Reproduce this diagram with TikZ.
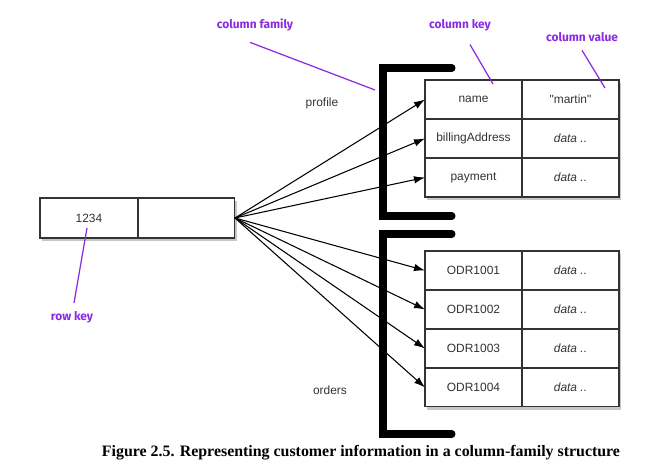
\documentclass[tikz,border=0pt]{standalone}
\usepackage{fontspec}
\setmainfont{Liberation Serif}
\setsansfont{Liberation Sans}
\newfontfamily\notefont{Fira Sans}
\newfontfamily\plainsans{Liberation Sans}
\usetikzlibrary{arrows.meta, positioning, shadows, backgrounds}
\definecolor{inkbox}{HTML}{333333}
\definecolor{notepurple}{HTML}{8A2BE2}

\begin{document}
\begin{tikzpicture}[
  x=0.02cm, y=-0.02cm,
  node distance=0pt,
  cell/.style={draw=inkbox, fill=white, line width=0.6pt, minimum width=1.94cm, minimum height=0.78cm, inner sep=0pt, outer sep=0pt, font=\sffamily\fontsize{6.8}{8}\selectfont\color{inkbox}},
  val/.style={cell, font=\sffamily\itshape\fontsize{6.8}{8}\selectfont\color{inkbox}},
  lbl/.style={font=\sffamily\fontsize{6.8}{8}\selectfont\color{inkbox}},
  bracket/.style={line width=4pt, line cap=round},
  link/.style={-{Latex[length=2.2mm, width=1.5mm]}, line width=0.6pt},
  note/.style={font=\notefont\bfseries\fontsize{6.8}{8}\selectfont, text=notepurple},
  noteline/.style={draw=notepurple, line width=0.7pt},
  shade/.style={drop shadow={shadow xshift=1pt, shadow yshift=-1.5pt, opacity=.45}, fill=white}
]
\useasboundingbox (0,0) rectangle (650,472);

% row key
\node[cell, minimum width=1.96cm, minimum height=0.8cm] (rk) at (89,218) {1234};
\node[cell, minimum height=0.8cm, right=of rk] (rv) {};

% profile family
\node[cell] (k1) at (473.5,99.5) {name};
\node[cell, right=of k1, font=\plainsans\fontsize{6.8}{8}\selectfont\color{inkbox}] (v1) {"martin"};
\node[cell, below=of k1] (k2) {billingAddress};
\node[val, right=of k2] (v2) {data ..};
\node[cell, below=of k2] (k3) {payment};
\node[val, right=of k3] (v3) {data ..};

% orders family
\node[cell] (o1) at (473.5,270.5) {ODR1001};
\node[val, right=of o1] (d1) {data ..};
\node[cell, below=of o1] (o2) {ODR1002};
\node[val, right=of o2] (d2) {data ..};
\node[cell, below=of o2] (o3) {ODR1003};
\node[val, right=of o3] (d3) {data ..};
\node[cell, below=of o3] (o4) {ODR1004};
\node[val, right=of o4] (d4) {data ..};

\begin{scope}[on background layer]
  \path[shade] (rk.north west) rectangle (rv.south east);
  \path[shade] (k1.north west) rectangle (v3.south east);
  \path[shade] (o1.north west) rectangle (d4.south east);
\end{scope}

% brackets
\draw[bracket] (452,68) -- (383,68) -- (383,216) -- (452,216);
\draw[bracket] (452,234) -- (383,234) -- (383,434) -- (452,434);

\node[lbl] (profile) at (322,103) {profile};
\node[lbl] (orders) at (330,390) {orders};

% arrows
\foreach \k in {k1,k2,k3,o1,o2,o3,o4}
  \draw[link] (rv.east) -- (\k.west);

% notes
\node[note] (colfam) at (255,25) {column family};
\node[note] (colkey) at (460,25) {column key};
\node[note] (colval) at (582,37) {column value};
\node[note] (rowkey) at (72,317) {row key};
\coordinate (famtip) at (375,90);
\coordinate (keytip) at (493,84);
\coordinate (valtip) at (605,88);
\coordinate (rowtip) at (87,228);
\draw[noteline] ([xshift=-0.1cm, yshift=-0.1cm]colfam.south) -- (famtip);
\draw[noteline] ([xshift=0.2cm, yshift=-0.15cm]colkey.south) -- (keytip);
\draw[noteline] ([yshift=-0.05cm]colval.south) -- (valtip);
\draw[noteline] ([xshift=0.04cm, yshift=0.04cm]rowkey.north) -- (rowtip);

\node[font=\bfseries\fontsize{9.05}{11}\selectfont] (caption) at (361,453) {Figure 2.5. Representing customer information in a column-family structure};
\end{tikzpicture}
\end{document}
